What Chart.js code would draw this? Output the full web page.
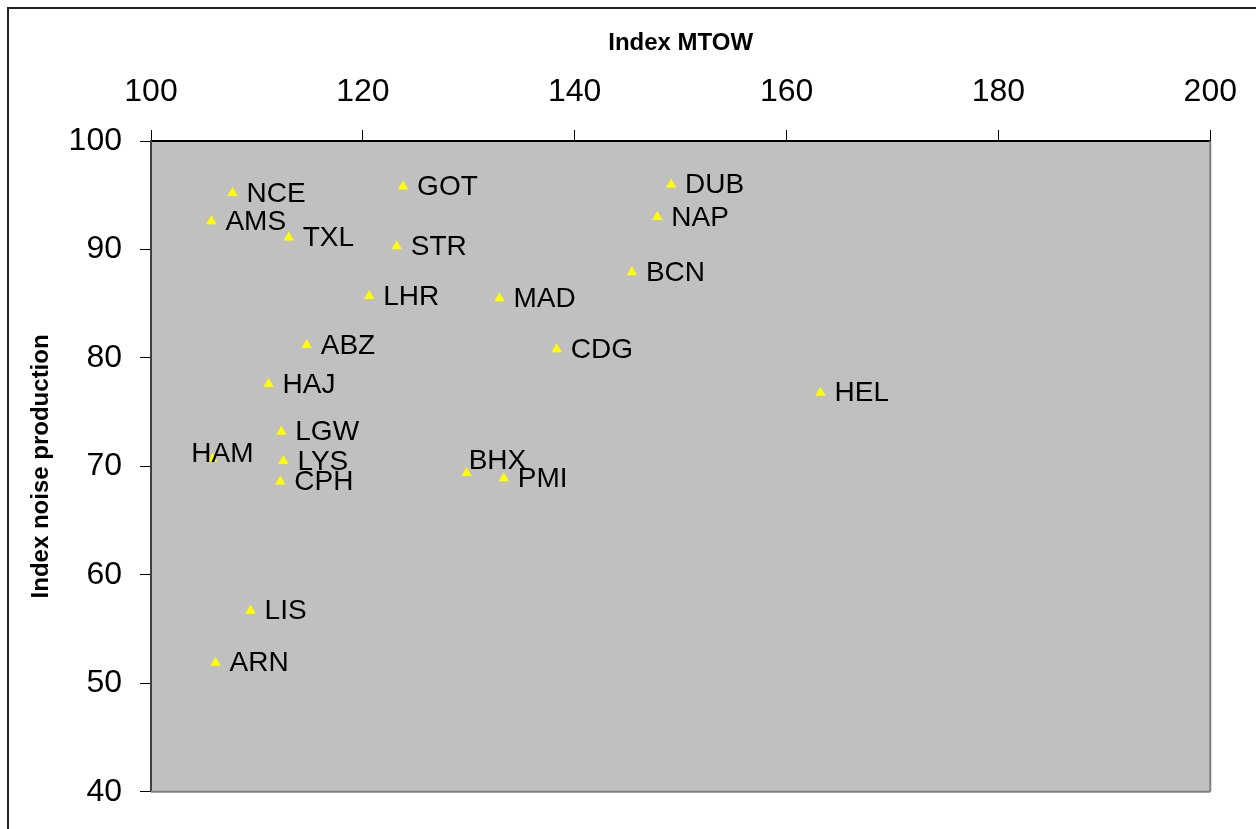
<!DOCTYPE html>
<html>
<head>
<meta charset="utf-8">
<title>Index MTOW vs noise</title>
<script src="https://cdn.jsdelivr.net/npm/chart.js"></script>
<style>
  body { margin: 0; background: #fff; }
  #wrap { width: 1256px; height: 829px; }
</style>
</head>
<body>
<div id="wrap"><canvas id="my-chart" width="1256" height="829"></canvas></div>
<script>
const airports = ["NCE","AMS","TXL","GOT","STR","DUB","NAP","BCN","LHR","MAD","ABZ","CDG","HEL","HAJ","LGW","LYS","CPH","HAM","BHX","PMI","LIS","ARN"];
const mtowIndex = [107.7,105.7,113.0,123.8,123.2,149.1,147.8,145.4,120.6,132.9,114.7,138.3,163.2,111.1,112.3,112.5,112.2,105.8,129.8,133.3,109.4,106.1];
const noiseIndex = [95.2,92.6,91.1,95.8,90.3,96.0,93.0,87.9,85.7,85.5,81.2,80.8,76.8,77.6,73.2,70.5,68.6,70.7,69.4,68.9,56.7,51.9];

const xTicks = [100,120,140,160,180,200];
const yTicks = [40,50,60,70,80,90,100];

const fontName = "'Liberation Sans', Arial, sans-serif";

// grey plot area, frame and outer border
const backdrop = {
  id: "backdrop",
  beforeDraw(chart) {
    const ctx = chart.ctx;
    const a = chart.chartArea;
    ctx.save();
    ctx.fillStyle = "#c0c0c0";
    ctx.fillRect(a.left, a.top, a.right - a.left, a.bottom - a.top);
    // outer chart border, only left and top show in the picture
    ctx.strokeStyle = "#222";
    ctx.lineWidth = 2;
    ctx.strokeRect(8, 8, 1400, 1000);
    ctx.restore();
  },
  afterDraw(chart) {
    const ctx = chart.ctx;
    const a = chart.chartArea;
    ctx.save();
    ctx.strokeStyle = "#808080";
    ctx.lineWidth = 2;
    ctx.beginPath();
    ctx.moveTo(a.right, a.top);
    ctx.lineTo(a.right, a.bottom);
    ctx.moveTo(a.left, a.bottom);
    ctx.lineTo(a.right, a.bottom);
    ctx.stroke();
    ctx.restore();
  }
};

// airport codes next to each point
const pointLabels = {
  id: "pointLabels",
  afterDatasetsDraw(chart) {
    const ctx = chart.ctx;
    const meta = chart.getDatasetMeta(0);
    ctx.save();
    ctx.font = "28px " + fontName;
    ctx.fillStyle = "#000";
    ctx.textBaseline = "middle";
    meta.data.forEach((pt, i) => {
      const name = airports[i];
      if (name === "HAM") {
        ctx.textAlign = "center";
        ctx.fillText(name, pt.x + 10, pt.y - 5);
      } else if (name === "BHX") {
        ctx.textAlign = "left";
        ctx.fillText(name, pt.x + 2, pt.y - 12);
      } else {
        ctx.textAlign = "left";
        ctx.fillText(name, pt.x + 14, pt.y + 1);
      }
    });
    ctx.restore();
  }
};

function printTheChart() {
  const ctx = document.getElementById("my-chart").getContext("2d");
  const points = mtowIndex.map((x, i) => ({ x: x, y: noiseIndex[i] }));
  new Chart(ctx, {
    type: "scatter",
    data: {
      datasets: [
        {
          label: "Airports",
          data: points,
          pointStyle: "triangle",
          pointRadius: 6,
          pointHoverRadius: 6,
          backgroundColor: "#ffff00",
          borderColor: "#ffff00",
          borderWidth: 0,
        },
      ],
    },
    options: {
      responsive: false,
      animation: false,
      layout: { padding: { left: 10, top: 10, right: 39, bottom: 37 } },
      plugins: {
        legend: { display: false },
        tooltip: { enabled: false },
      },
      scales: {
        x: {
          type: "linear",
          position: "top",
          min: 100,
          max: 200,
          afterBuildTicks: (scale) => { scale.ticks = xTicks.map(v => ({ value: v })); },
          afterFit: (scale) => { scale.height = 131; },
          grid: { drawOnChartArea: false, drawTicks: true, tickLength: 11, color: "#000", lineWidth: 1 },
          border: { display: true, color: "#000", width: 2 },
          ticks: { color: "#000", padding: 19, font: { family: fontName, size: 32 }, maxRotation: 0 },
          title: { display: true, text: "Index MTOW", color: "#000", padding: 19, font: { family: fontName, size: 24, weight: "bold" } },
        },
        y: {
          type: "linear",
          min: 40,
          max: 100,
          afterBuildTicks: (scale) => { scale.ticks = yTicks.map(v => ({ value: v })); },
          afterFit: (scale) => { scale.width = 141; },
          grid: { drawOnChartArea: false, drawTicks: true, tickLength: 11, color: "#000", lineWidth: 1 },
          border: { display: true, color: "#404040", width: 2 },
          ticks: { color: "#000", padding: 18, font: { family: fontName, size: 32 } },
          title: { display: true, text: "Index noise production", color: "#000", padding: 17, font: { family: fontName, size: 24, weight: "bold" } },
        },
      },
    },
    plugins: [backdrop, pointLabels],
  });
}

printTheChart();
</script>
</body>
</html>
